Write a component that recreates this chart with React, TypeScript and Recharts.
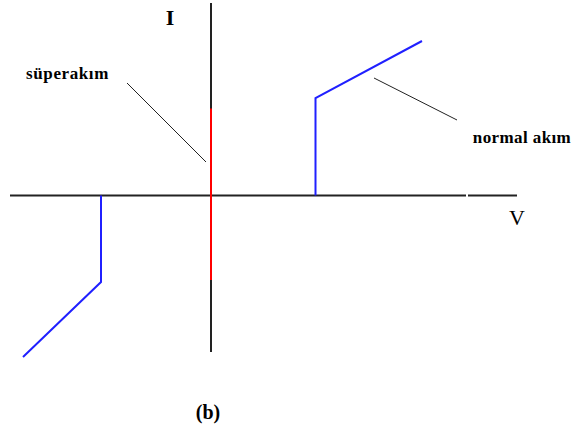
import React from "react";
import { LineChart, Line, XAxis, YAxis, ReferenceDot } from "recharts";

// I–V characteristic of a Josephson junction (units: V right, I up)
type Pt = { v: number; i: number };

// coordinate axes (the V axis has a small break near its right end)
const vAxisLeft: Pt[] = [
  { v: -20.1, i: 0 },
  { v: 25.5, i: 0 },
];
const vAxisRight: Pt[] = [
  { v: 25.7, i: 0 },
  { v: 30.6, i: 0 },
];
const iAxis: Pt[] = [
  { v: 0, i: 19.25 },
  { v: 0, i: -15.65 },
];

// supercurrent branch at V = 0
const superCurrent: Pt[] = [
  { v: 0, i: 8.7 },
  { v: 0, i: -8.45 },
];

// normal-current branches
const normalPos: Pt[] = [
  { v: 10.45, i: 0 },
  { v: 10.45, i: 9.75 },
  { v: 21.1, i: 15.45 },
];
const normalNeg: Pt[] = [
  { v: -11, i: 0 },
  { v: -11, i: -8.65 },
  { v: -18.8, i: -16.15 },
];

// leader lines to the labels
const superLeader: Pt[] = [
  { v: -8.4, i: 11.25 },
  { v: -0.5, i: 3.35 },
];
const normalLeader: Pt[] = [
  { v: 16.3, i: 11.75 },
  { v: 24.6, i: 7.55 },
];

// text labels and where they sit
const labels = [
  { text: "I", v: -4.1, i: 17.85, size: 22, weight: "bold", spacing: 0 },
  { text: "V", v: 30.6, i: -2.15, size: 22, weight: "normal", spacing: 0 },
  { text: "süperakım", v: -14.35, i: 12.25, size: 17, weight: "bold", spacing: 0.6 },
  { text: "normal akım", v: 31.1, i: 5.85, size: 17, weight: "bold", spacing: 0.4 },
  { text: "(b)", v: -0.3, i: -21.65, size: 20, weight: "bold", spacing: 0 },
];

const W = 573;
const H = 429;

const textContent =
  (text: string, size: number, weight: string, spacing: number) =>
  (props: any) => {
    const vb = props.viewBox || {};
    const x = (vb.x ?? 0) + (vb.width ?? 0) / 2;
    const y = (vb.y ?? 0) + (vb.height ?? 0) / 2;
    return (
      <text
        x={x}
        y={y}
        textAnchor="middle"
        dominantBaseline="central"
        fontFamily="'Liberation Serif', serif"
        fontSize={size}
        fontWeight={weight}
        letterSpacing={spacing}
        fill="#000"
      >
        {text}
      </text>
    );
  };

const seg = (data: Pt[], color: string, width: number, key: string) => (
  <Line
    key={key}
    data={data}
    dataKey="i"
    stroke={color}
    strokeWidth={width}
    dot={false}
    activeDot={false}
    isAnimationActive={false}
    type="linear"
  />
);

export default function App() {
  return (
    <div
      style={{
        position: "absolute",
        left: 0,
        top: 0,
        width: W,
        height: H,
        background: "#fff",
      }}
    >
      <LineChart width={W} height={H} margin={{ top: 0, right: 0, bottom: 0, left: 0 }}>
        <XAxis
          type="number"
          dataKey="v"
          domain={[-21.1, 36.2]}
          allowDataOverflow
          hide
        />
        <YAxis
          type="number"
          dataKey="i"
          domain={[-23.35, 19.55]}
          allowDataOverflow
          hide
        />
        {seg(vAxisLeft, "#222", 2, "vl")}
        {seg(vAxisRight, "#222", 2, "vr")}
        {seg(iAxis, "#222", 2, "ia")}
        {seg(superCurrent, "#ff0000", 2, "sc")}
        {seg(normalPos, "#2020ff", 2, "np")}
        {seg(normalNeg, "#2020ff", 2, "nn")}
        {seg(superLeader, "#222", 1, "sl")}
        {seg(normalLeader, "#222", 1, "nl")}
        {labels.map((l) => (
          <ReferenceDot
            key={l.text}
            x={l.v}
            y={l.i}
            r={0}
            fill="none"
            stroke="none"
            label={textContent(l.text, l.size, l.weight, l.spacing)}
          />
        ))}
      </LineChart>
    </div>
  );
}
